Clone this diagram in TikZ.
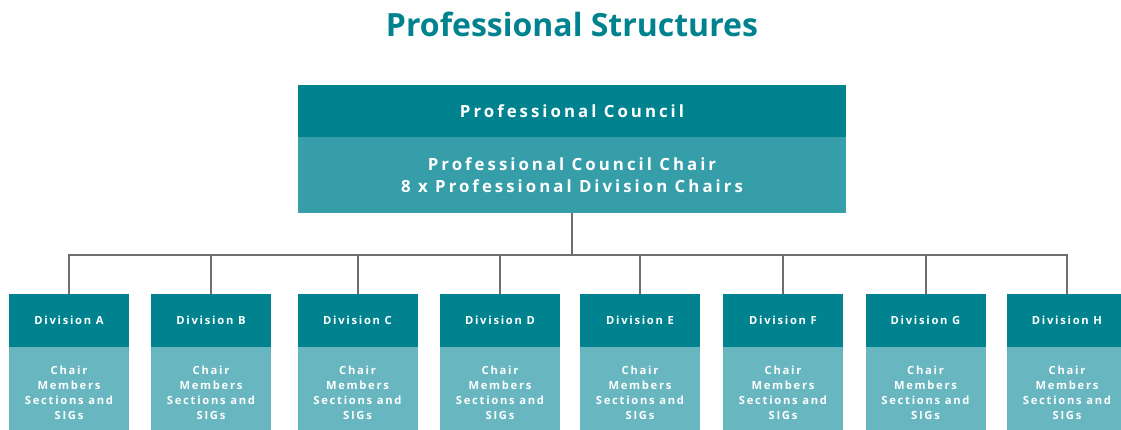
\documentclass[tikz,border=0pt]{standalone}
\usepackage{fontspec}
\setmainfont{Open Sans}
\newfontfamily\spaced{Open Sans}[LetterSpace=18]
\newfontfamily\spacedsmall{Open Sans}[LetterSpace=15.5]
\usetikzlibrary{positioning}
\definecolor{tealdark}{HTML}{00838F}
\definecolor{tealmid}{HTML}{359EA9}
\definecolor{teallight}{HTML}{68B6C0}
\definecolor{linkgray}{HTML}{6E6E6E}

\begin{document}
\begin{tikzpicture}[
				x=0.75pt,y=-0.75pt,
				every node/.style={inner sep=0pt,outer sep=0pt,text=white,align=center},
				council/.style={fill=tealdark,minimum width=411pt,minimum height=39pt,
					font=\spaced\bfseries\fontsize{12.6}{16.5}\selectfont},
				councilbody/.style={fill=tealmid,minimum width=411pt,minimum height=57pt,
					font=\spaced\bfseries\fontsize{12.6}{16.5}\selectfont},
				division/.style={fill=tealdark,minimum width=90pt,minimum height=39.75pt,
					font=\spacedsmall\bfseries\fontsize{8.4}{11.25}\selectfont},
				divbody/.style={fill=teallight,minimum width=90pt,minimum height=68pt,
					font=\spacedsmall\bfseries\fontsize{8.4}{11.25}\selectfont},
				link/.style={draw=linkgray,line width=1.5pt}
				]
				\clip (0,0) rectangle (1121,429);
				
				% title
				\node[anchor=base,text=tealdark,font=\bfseries\fontsize{24}{28}\selectfont] (title) at (572,36) {Professional Structures};
				
				% council
				\node[council,anchor=north] (pc) at (572,85) {Professional Council};
				\node[councilbody,below=0pt of pc] (pcb) {Professional Council Chair\\8 x Professional Division Chairs};
				\coordinate[below=31.5pt of pcb.south] (bus);
				
				% divisions
				\foreach \x/\d in {69/A,211/B,357.5/C,500/D,640/E,783/F,925.5/G,1067/H}{
					\node[division,anchor=north] (div\d) at (\x,294) {Division \d};
					\node[divbody,below=0pt of div\d] (body\d) {Chair\\Members\\Sections and\\SIGs};
					\draw[link] (div\d.north) -- (div\d.north |- bus);
				}
				
				% the connectors
				\draw[link] (pcb.south) -- (bus);
				\draw[link,line cap=rect] (divA.north |- bus) -- (divH.north |- bus);
			\end{tikzpicture}
\end{document}
